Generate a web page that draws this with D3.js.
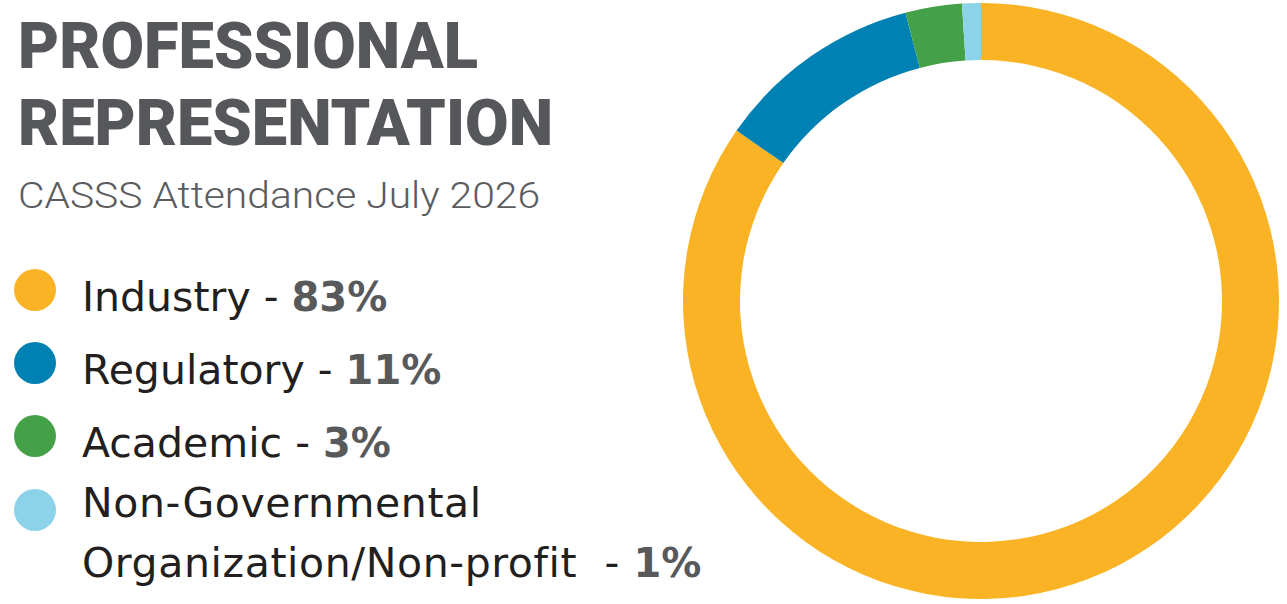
<!DOCTYPE html>
<html>
<head>
<meta charset="utf-8">
<script src="https://cdn.jsdelivr.net/npm/d3@7"></script>
<style>
  body { margin: 0; background: #fff; }
  text { white-space: pre; }
</style>
</head>
<body>
<svg id="chart" width="1287" height="604"></svg>
<script>
// chart data
const categories = ["Industry", "Regulatory", "Academic", "Non-Governmental\nOrganization/Non-profit "];
const values = [83, 11, 3, 1];
const colors = ["#fbb326", "#0081b3", "#44a148", "#8cd2e8"];
const titleLines = ["PROFESSIONAL", "REPRESENTATION"];
const subtitle = "CASSS Attendance July 2026";

const svg = d3.select("#chart");
const width = 1287, height = 604;

// title
const titleBase = [68, 145], titleLen = [460, 535];
titleLines.forEach(function(t, i) {
  svg.append("text")
      .attr("x", 18)
      .attr("y", titleBase[i])
      .attr("textLength", titleLen[i])
      .attr("lengthAdjust", "spacingAndGlyphs")
      .style("font-family", "Roboto")
      .style("font-weight", 900)
      .style("font-size", "64px")
      .style("fill", "#56575b")
      .text(t);
});

svg.append("text")
    .attr("x", 18)
    .attr("y", 208)
    .attr("textLength", 522)
    .attr("lengthAdjust", "spacingAndGlyphs")
    .style("font-family", "Roboto")
    .style("font-weight", 300)
    .style("font-size", "37px")
    .style("fill", "#5b5c60")
    .text(subtitle);

// legend
const legendY = d3.scaleOrdinal().domain(categories).range([290, 363, 436, 510]);
const legend = svg.append("g").attr("class", "legend");

categories.forEach(function(c, i) {
  const cy = legendY(c);
  legend.append("circle")
      .attr("cx", 35)
      .attr("cy", cy)
      .attr("r", 21)
      .style("fill", colors[i]);

  const lines = c.split("\n");
  const txt = legend.append("text")
      .attr("x", 82)
      .attr("y", cy + 21 + (lines.length > 1 ? -14 : 0))
      .style("font-family", "DejaVu Sans")
      .style("font-size", "41px")
      .style("fill", "#231f20");
  lines.forEach(function(l, j) {
    const last = j === lines.length - 1;
    const ts = txt.append("tspan")
        .attr("x", 82)
        .attr("dy", j === 0 ? 0 : 60)
        .style("letter-spacing", lines.length > 1 ? "0.6px" : null)
        .text(l + (last ? " - " : ""));
    if (last) {
      txt.append("tspan")
          .style("font-weight", "bold")
          .style("font-size", "40px")
          .style("fill", "#58595b")
          .text(values[i] + "%");
    }
  });
});

// donut
const cx = 981, cy = 301, rOuter = 298, rInner = 241;
const pie = d3.pie().sort(null).value(function(d) { return d; });
const arc = d3.arc().innerRadius(rInner).outerRadius(rOuter);

svg.append("g")
    .attr("transform", "translate(" + cx + "," + cy + ")")
  .selectAll("path")
  .data(pie(values))
  .enter()
  .append("path")
    .attr("d", arc)
    .style("fill", function(d, i) { return colors[i]; });
</script>
</body>
</html>
